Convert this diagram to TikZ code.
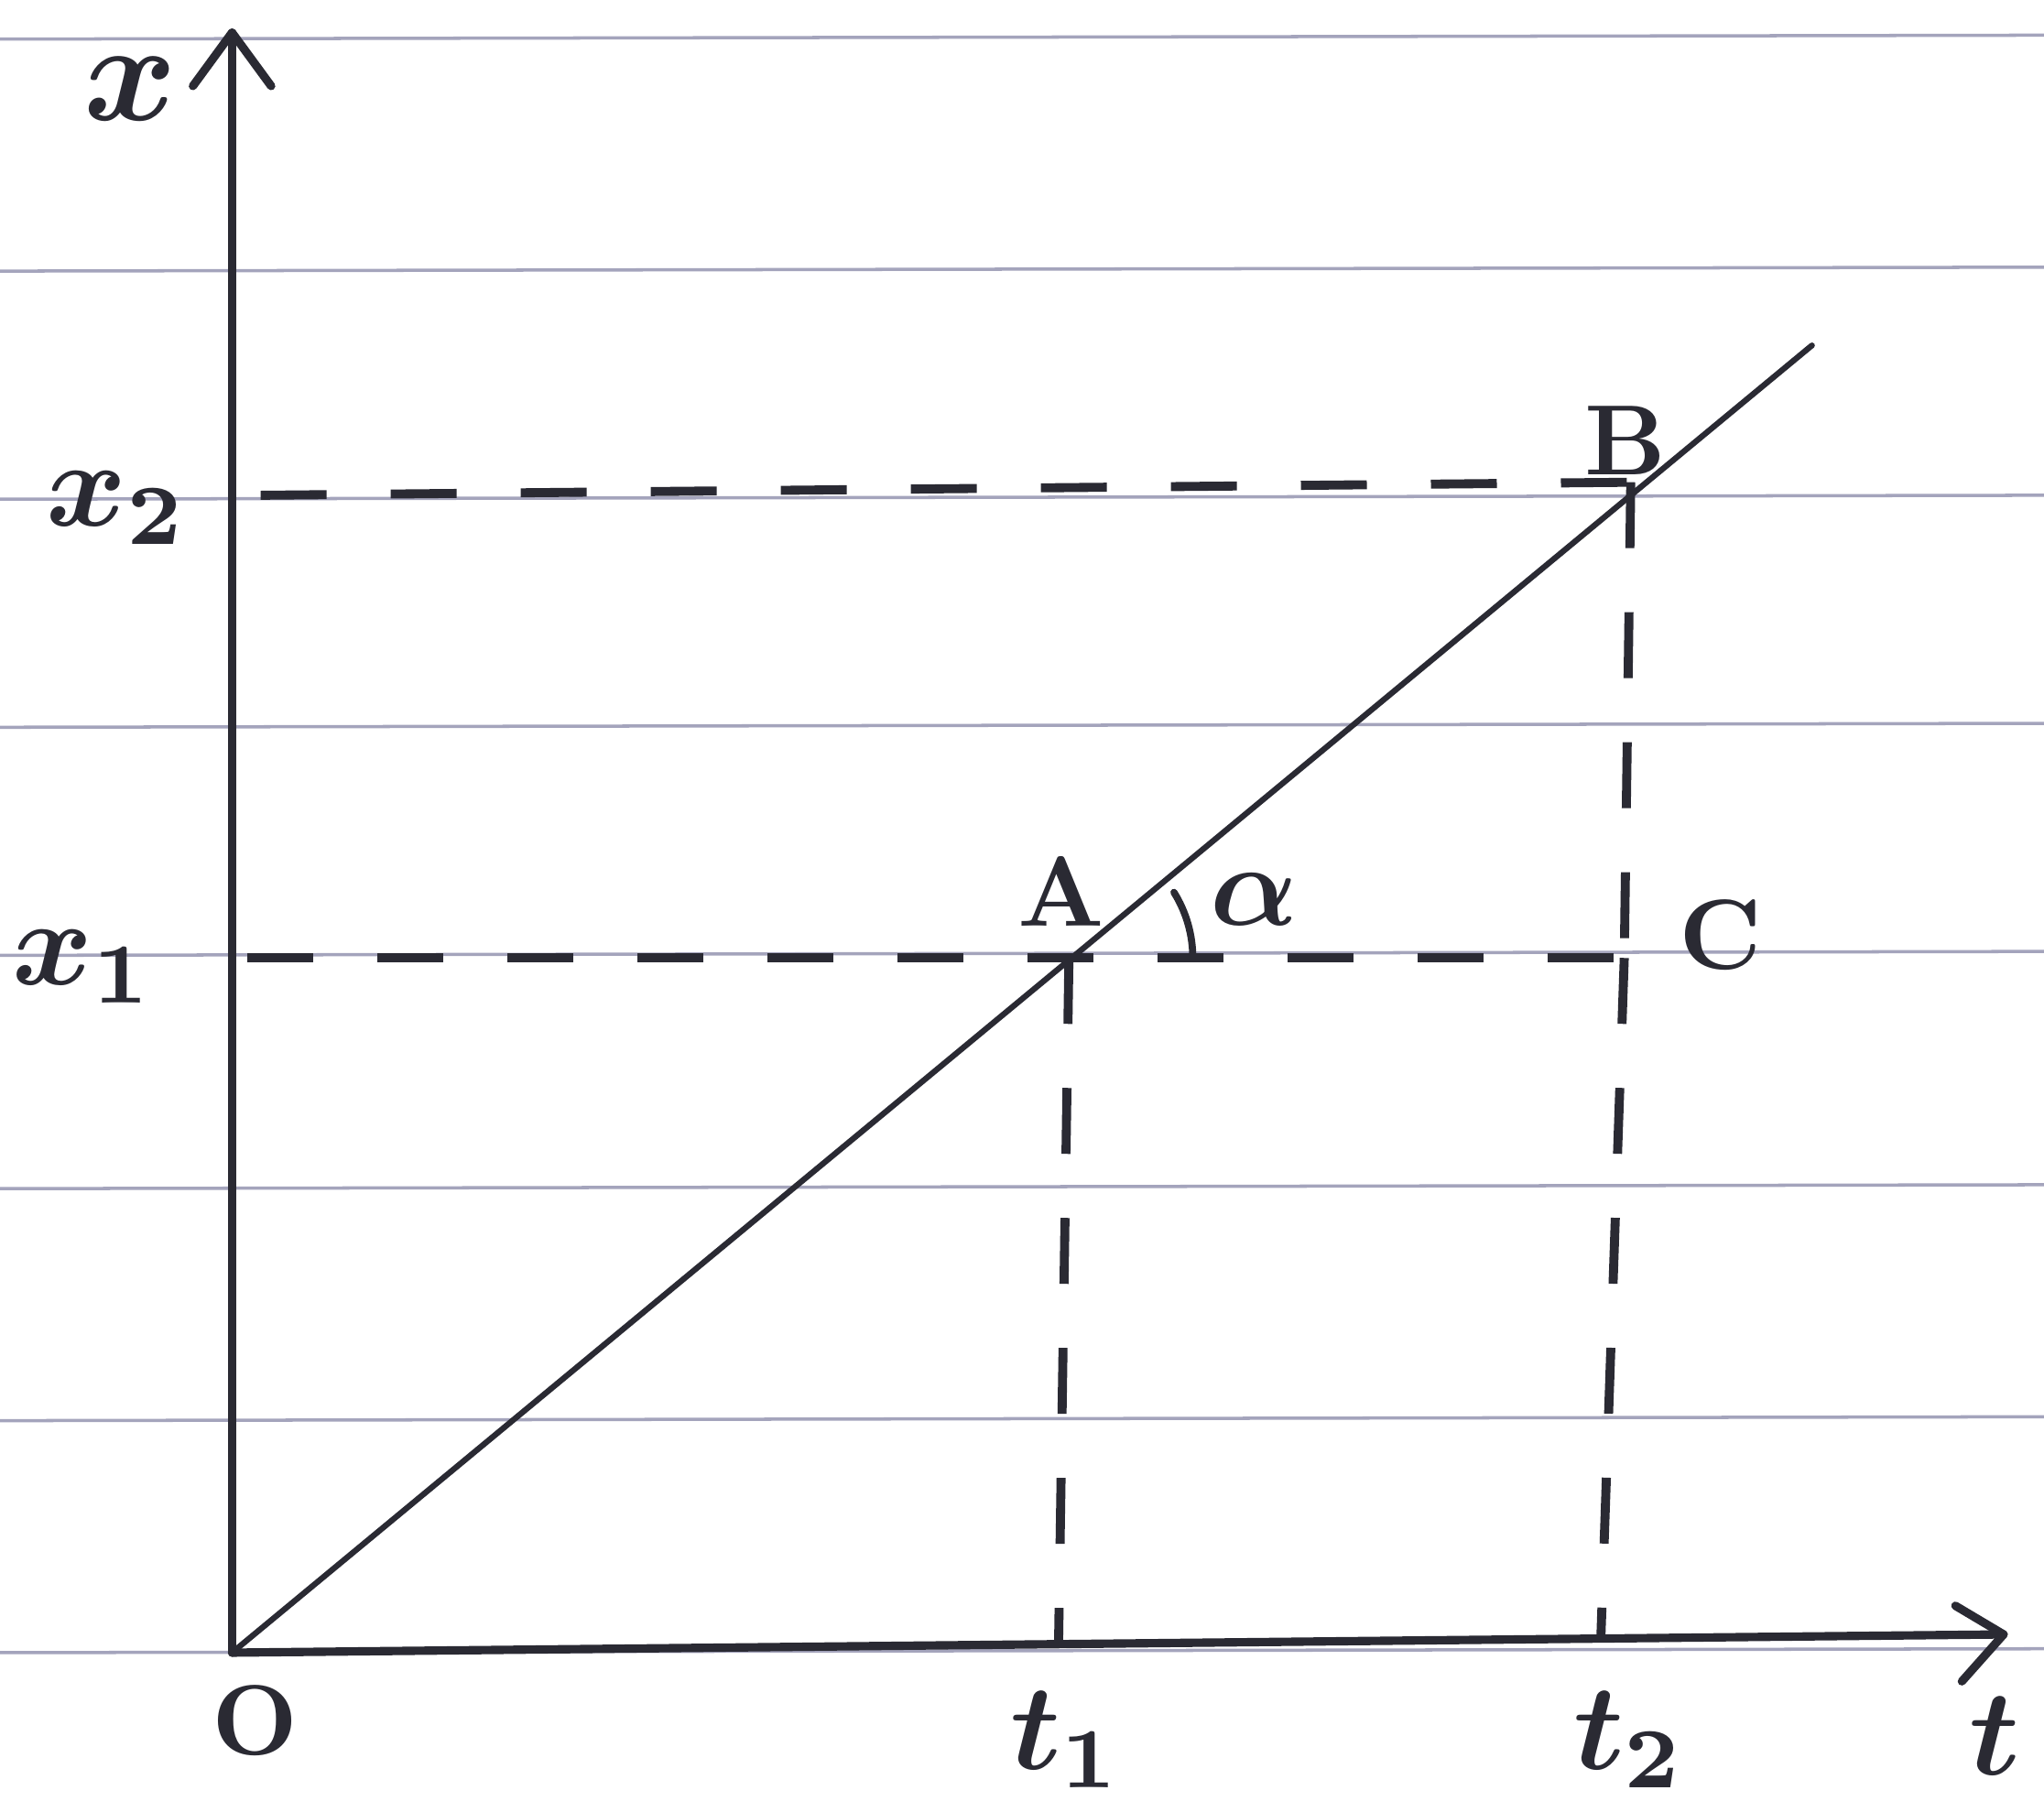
\documentclass[tikz,border=0pt]{standalone}
\usepackage{amsmath}
\definecolor{inkc}{HTML}{2A2A33}
\definecolor{rulec}{HTML}{A4A4BC}
\begin{document}
\begin{tikzpicture}[x=0.014235cm,y=-0.014235cm,
  rule/.style={draw=rulec,line width=1pt},
  axisline/.style={draw=inkc,line width=2.6pt,line cap=round,line join=round},
  graphline/.style={draw=inkc,line width=1.8pt,line cap=round},
  dashline/.style={draw=inkc,line width=2.8pt,dash pattern=on 0.72cm off 0.7cm},
  lab/.style={text=inkc,inner sep=0pt,scale=3.8,transform shape,font=\boldmath},
  biglab/.style={text=inkc,inner sep=0pt,scale=4.4,transform shape,font=\boldmath},
  allab/.style={text=inkc,inner sep=0pt,scale=3.6,transform shape,font=\boldmath},
  caplab/.style={text=inkc,inner sep=0pt,scale=3.1,transform shape,font=\bfseries}]
\useasboundingbox (0,0) rectangle (1568,1390);
\fill[white] (0,0) rectangle (1568,1390);
% ruled paper
\foreach \yy in {30,208,383,558,733,912,1090,1268}
  \draw[rule] (0,\yy) -- (1568,\yy-3);
% points
\coordinate (O) at (178,1268);
\coordinate (Ytip) at (178,25);
\coordinate (Ttip) at (1537,1254);
\coordinate (A) at (820,735);
\coordinate (B) at (1251,370);
\coordinate (E) at (1390,265);
\coordinate (C) at (1246,735);
\coordinate (X1) at (190,735);
\coordinate (X2) at (200,380);
\coordinate (T1) at (812,1264);
\coordinate (T2) at (1228,1258);
\coordinate (Yl) at (148,66);
\coordinate (Yr) at (208,66);
\coordinate (Tu) at (1500,1232);
\coordinate (Td) at (1505,1290);
% axes
\draw[axisline] (O) -- (Ytip);
\draw[axisline] (Yl) -- (Ytip) -- (Yr);
\draw[axisline] (O) -- (Ttip);
\draw[axisline] (Tu) -- (Ttip) -- (Td);
% graph line
\draw[graphline] (O) -- (E);
% dashed helpers
\draw[dashline] (X2) -- (B);
\draw[dashline] (X1) -- (C);
\draw[dashline] (A) -- (T1);
\draw[dashline] (B) -- (C);
\draw[dashline] (C) -- (T2);
% angle mark
\draw[graphline,line width=2.2pt] ([xshift=95*0.014235cm]A) arc[start angle=0,end angle=-32,radius=95];
% labels
\node[biglab] (lx) at (100,68) {$x$};
\node[lab] (lx2) at (90,390) {$x_2$};
\node[lab] (lx1) at (64,742) {$x_1$};
\node[caplab] (lO) at (196,1320) {O};
\node[lab] (lt1) at (818,1335) {$t_1$};
\node[lab] (lt2) at (1250,1335) {$t_2$};
\node[lab] (lt) at (1530,1332) {$t$};
\node[caplab] (lA) at (814,684) {A};
\node[caplab] (lB) at (1247,338) {B};
\node[caplab] (lC) at (1320,717) {C};
\node[allab] (lal) at (962,690) {$\alpha$};
\end{tikzpicture}
\end{document}
